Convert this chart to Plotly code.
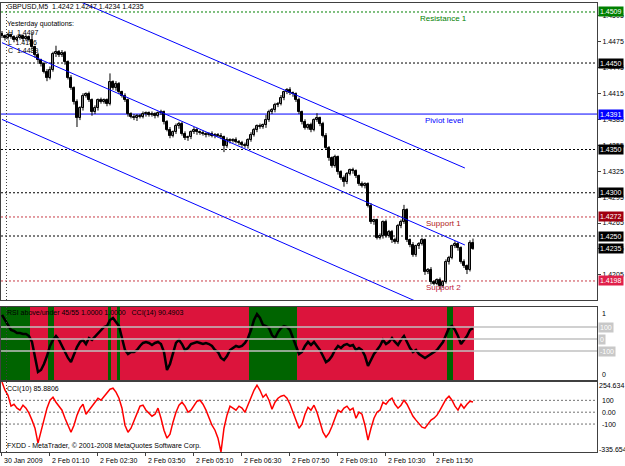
import plotly.graph_objects as go

# ---------------- data ----------------
bars = list(range(158))
open_first = 1.4484
close = [
    1.4481, 1.4479, 1.4482, 1.4480, 1.4477, 1.4479, 1.4481, 1.4478, 1.4480, 1.4477,
    1.4468, 1.4459, 1.4453, 1.4449, 1.4440, 1.4433, 1.4442, 1.4460, 1.4463, 1.4459,
    1.4462, 1.4451, 1.4433, 1.4421, 1.4405, 1.4386, 1.4398, 1.4412, 1.4414, 1.4407,
    1.4393, 1.4398, 1.4407, 1.4405, 1.4407, 1.4403, 1.4428, 1.4421, 1.4426, 1.4416,
    1.4412, 1.4407, 1.4391, 1.4388, 1.4386, 1.4389, 1.4388, 1.4391, 1.4392, 1.4390,
    1.4391, 1.4389, 1.4392, 1.4393, 1.4382, 1.4373, 1.4366, 1.4370, 1.4377, 1.4380,
    1.4368, 1.4363, 1.4364, 1.4370, 1.4373, 1.4370, 1.4369, 1.4368, 1.4367, 1.4368,
    1.4366, 1.4367, 1.4366, 1.4364, 1.4354, 1.4361, 1.4360, 1.4361, 1.4359, 1.4358,
    1.4355, 1.4354, 1.4361, 1.4367, 1.4373, 1.4377, 1.4376, 1.4378, 1.4384, 1.4393,
    1.4396, 1.4401, 1.4403, 1.4410, 1.4416, 1.4419, 1.4415, 1.4414, 1.4407, 1.4393,
    1.4382, 1.4375, 1.4378, 1.4373, 1.4384, 1.4386, 1.4380, 1.4366, 1.4352, 1.4340,
    1.4331, 1.4341, 1.4324, 1.4317, 1.4312, 1.4322, 1.4326, 1.4325, 1.4319, 1.4310,
    1.4308, 1.4310, 1.4285, 1.4266, 1.4268, 1.4248, 1.4250, 1.4266, 1.4250, 1.4255,
    1.4245, 1.4243, 1.4262, 1.4266, 1.4280, 1.4245, 1.4240, 1.4228, 1.4238, 1.4241,
    1.4245, 1.4208, 1.4211, 1.4197, 1.4195, 1.4199, 1.4192, 1.4197, 1.4220, 1.4225,
    1.4238, 1.4241, 1.4236, 1.4220, 1.4215, 1.4211, 1.4242, 1.4235]
# wick lengths in pips (0.0001)
upper_wick = [
    3, 2, 3, 2, 2, 3, 2, 2, 3, 2, 8, 2, 3, 2, 2, 3, 4, 3, 7, 2,
    3, 2, 2, 3, 2, 3, 2, 3, 2, 3, 2, 3, 2, 3, 2, 2, 10, 2, 3, 2,
    2, 3, 2, 2, 3, 2, 2, 3, 2, 2, 3, 2, 2, 3, 2, 2, 3, 2, 3, 2,
    2, 3, 2, 2, 3, 2, 2, 3, 2, 2, 3, 2, 2, 3, 2, 3, 2, 2, 3, 2,
    2, 3, 2, 3, 2, 2, 3, 2, 6, 3, 2, 3, 2, 3, 2, 2, 3, 2, 2, 3,
    2, 3, 2, 3, 2, 6, 2, 2, 3, 2, 2, 3, 2, 2, 3, 2, 2, 3, 2, 2,
    3, 2, 2, 3, 2, 2, 3, 2, 3, 2, 2, 3, 2, 3, 6, 2, 2, 3, 2, 2,
    3, 2, 2, 3, 2, 2, 3, 2, 3, 2, 2, 3, 2, 2, 3, 2, 3, 5]
lower_wick = [
    2, 3, 2, 2, 3, 2, 2, 3, 2, 2, 2, 3, 2, 3, 2, 4, 2, 2, 3, 2,
    2, 3, 2, 2, 3, 10, 2, 3, 2, 2, 4, 2, 3, 2, 2, 3, 2, 2, 3, 2,
    2, 2, 3, 2, 2, 3, 2, 2, 3, 2, 2, 3, 2, 2, 3, 2, 3, 2, 2, 3,
    2, 2, 3, 2, 2, 3, 2, 2, 3, 2, 2, 3, 2, 2, 7, 2, 3, 2, 2, 3,
    2, 2, 3, 2, 2, 3, 2, 2, 3, 2, 2, 3, 2, 2, 3, 2, 2, 3, 2, 2,
    3, 2, 2, 3, 2, 2, 3, 2, 2, 3, 2, 2, 3, 2, 5, 2, 2, 3, 2, 2,
    2, 3, 2, 2, 3, 2, 2, 3, 2, 2, 3, 2, 2, 3, 2, 2, 3, 2, 2, 3,
    2, 3, 2, 3, 2, 2, 4, 2, 2, 3, 2, 2, 3, 2, 2, 5, 2, 1]

cci14 = [
    200, 158, 108, 75, 67, 50, 50, 42, 42, 25, -25, -158, -275, -258, -208, -142, -58, -8, 25, -8,
    -58, -108, -158, -192, -133, -67, -25, -8, -42, 8, -8, 17, 50, 75, 100, 108, 158, 175, 142, 108,
    8, -92, -125, -108, -108, -92, -58, -33, -25, -33, -50, -33, -25, -42, -108, -258, -208, -108, -33, -8,
    -42, -92, -75, -42, -33, -25, -33, -42, -33, -42, -58, -92, -108, -158, -175, -142, -92, -75, -58, -67,
    -58, -33, 8, 75, 158, 208, 175, 117, 108, 92, 33, 8, 58, 92, 108, 100, 75, 8, -58, -125,
    -108, -58, -25, -50, -25, -58, -92, -142, -192, -175, -142, -92, -58, -75, -50, -42, -58, -50, -92, -75,
    -92, -142, -225, -175, -125, -92, -58, -8, -42, -25, 8, -25, -50, -8, 25, -25, -75, -108, -92, -125,
    -142, -158, -142, -125, -108, -92, -58, -25, 33, 92, 108, 75, 25, -42, -8, 25, 75, 90.4903]
cci10 = [
    254.634, 185, 143, 51, 67, 34, 17, 59, 34, -8, -67, -135, -261, -169, -67, 34, 101, 126, 84, 51,
    17, -51, -118, -169, -110, -25, 34, 67, -17, 17, 42, 84, 118, 101, 135, 169, 194, 202, 169, 118,
    34, -110, -169, -135, -67, 0, 51, 59, 17, -8, -34, -17, 34, -51, -152, -219, -185, -84, 0, 59,
    84, 51, 0, 17, 51, 93, 101, 67, 17, -51, -110, -152, -219, -335.654, -135, -25, 51, 34, 17, 51,
    34, 0, 67, 135, 185, 228, 185, 126, 152, 101, 25, 84, 118, 135, 143, 118, 67, 0, -67, -135,
    -101, -17, 42, 17, 59, 0, -84, -169, -211, -177, -118, -51, 17, 0, 34, 51, 17, 34, -51, 0,
    -17, -110, -236, -135, -51, 0, 17, 84, 67, 101, 118, 67, 34, 59, 101, 67, 17, -34, -67, -101,
    -126, -135, -101, -67, -51, -25, 17, 67, 110, 135, 101, 51, 17, 67, 34, 67, 93, 85.8806]
# 1 = green (RSI above/under condition met), 0 = red
rsi_signal = [
    1, 1, 1, 1, 1, 1, 1, 1, 1, 1, 0, 0, 0, 0, 0, 0, 1, 1, 0, 0,
    0, 0, 0, 0, 0, 0, 0, 0, 0, 0, 0, 0, 0, 0, 0, 0, 1, 0, 0, 1,
    0, 0, 0, 0, 0, 0, 0, 0, 0, 0, 0, 0, 0, 0, 0, 0, 0, 0, 0, 0,
    0, 0, 0, 0, 0, 0, 0, 0, 0, 0, 0, 0, 0, 0, 0, 0, 0, 0, 0, 0,
    0, 0, 0, 1, 1, 1, 1, 1, 1, 1, 1, 1, 1, 1, 1, 1, 1, 1, 1, 0,
    0, 0, 0, 0, 0, 0, 0, 0, 0, 0, 0, 0, 0, 0, 0, 0, 0, 0, 0, 0,
    0, 0, 0, 0, 0, 0, 0, 0, 0, 0, 0, 0, 0, 0, 0, 0, 0, 0, 0, 0,
    0, 0, 0, 0, 0, 0, 0, 0, 0, 1, 1, 0, 0, 0, 0, 0, 0, 0]

time_tick_bars = [0, 16, 32, 48, 64, 80, 96, 112, 128, 144]
time_tick_text = ["30 Jan 2009", "2 Feb 01:10", "2 Feb 02:30", "2 Feb 03:50", "2 Feb 05:10",
                  "2 Feb 06:30", "2 Feb 07:50", "2 Feb 09:10", "2 Feb 10:30", "2 Feb 11:50"]
day_separator_bar = 1.5

# horizontal levels
level_prices = [1.4509, 1.4450, 1.4391, 1.4350, 1.4300, 1.4272, 1.4250, 1.4198]
level_colors = ["#008000", "#000000", "#0000FF", "#000000", "#000000", "#C83C46", "#000000", "#C83C46"]
level_dash = ["2px,2px", "2px,2px", "solid", "2px,2px", "2px,2px", "2px,2px", "2px,2px", "2px,2px"]
level_label_bg = ["#008000", "#000000", "#0000FF", "#000000", "#000000", "#A00010", "#000000", "#E0204A"]
bid_price = 1.4235
level_texts = ["Resistance 1", "Piviot level", "Support 1", "Support 2"]
level_text_prices = [1.4509, 1.4391, 1.4272, 1.4198]
level_text_colors = ["#008000", "#0000FF", "#B22222", "#C0203A"]
level_text_bar = 147.3

# channel lines (bar index, price)
chan_up_x, chan_up_y = [26, 154.3], [1.45210, 1.43286]
chan_mid_x, chan_mid_y = [0, 154.3], [1.44735, 1.42396]
chan_low_x, chan_low_y = [0, 145], [1.43848, 1.41638]

cci_levels = [100, 0, -100]

# ---------------- derived OHLC ----------------
opens = [open_first] + close[:-1]
highs = [max(o, c) + w * 0.0001 for o, c, w in zip(opens, close, upper_wick)]
lows = [min(o, c) - w * 0.0001 for o, c, w in zip(opens, close, lower_wick)]

W, H = 625, 466
def px_x(p): return p / W
def px_y(p): return (H - p) / H

XR = [-0.33, -0.33 + 596 / 3]
main_range = [1.41760, 1.45194]
font = "Liberation Sans, Arial, sans-serif"

fig = go.Figure()

# wicks
wx, wy = [], []
for b, hi, lo in zip(bars, highs, lows):
    wx += [b, b, None]
    wy += [hi, lo, None]
fig.add_trace(go.Scatter(x=wx, y=wy, mode="lines", line=dict(color="black", width=1),
                         xaxis="x", yaxis="y", showlegend=False, hoverinfo="skip"))
# bodies
body_base = [min(o, c) for o, c in zip(opens, close)]
body_h = [max(abs(c - o), 0.00003) for o, c in zip(opens, close)]
body_col = ["white" if c >= o else "black" for o, c in zip(opens, close)]
fig.add_trace(go.Bar(x=bars, y=body_h, base=body_base, width=0.62,
                     marker=dict(color=body_col, line=dict(color="black", width=1)),
                     xaxis="x", yaxis="y", showlegend=False, hoverinfo="skip"))

for cx, cy in [(chan_up_x, chan_up_y), (chan_mid_x, chan_mid_y), (chan_low_x, chan_low_y)]:
    fig.add_trace(go.Scatter(x=cx, y=cy, mode="lines", line=dict(color="#0000FF", width=1),
                             xaxis="x", yaxis="y", showlegend=False, hoverinfo="skip"))

# sub window 1 : colour histogram + CCI(14)
fig.add_trace(go.Bar(x=bars, y=[1.0] * len(bars),
                     marker=dict(color=["#006400" if s else "#DC143C" for s in rsi_signal], line=dict(width=0)),
                     width=1.0, xaxis="x2", yaxis="y2", showlegend=False, hoverinfo="skip"))
fig.add_trace(go.Scatter(x=bars, y=cci14, mode="lines", line=dict(color="black", width=2.5),
                         xaxis="x2", yaxis="y3", showlegend=False, hoverinfo="skip"))
# sub window 2 : CCI(10)
fig.add_trace(go.Scatter(x=bars, y=cci10, mode="lines", line=dict(color="#FF0000", width=1.5),
                         xaxis="x3", yaxis="y4", showlegend=False, hoverinfo="skip"))

shapes = []
for p, c, d in zip(level_prices, level_colors, level_dash):
    shapes.append(dict(type="line", xref="x domain", yref="y", x0=0, x1=1, y0=p, y1=p,
                       line=dict(color=c, width=1, dash=d), layer="below"))
for lv in cci_levels:
    shapes.append(dict(type="line", xref="x2 domain", yref="y3", x0=0, x1=1, y0=lv, y1=lv,
                       line=dict(color="#C0C0C0", width=1.5), layer="above"))
    shapes.append(dict(type="line", xref="x3 domain", yref="y4", x0=0, x1=1, y0=lv, y1=lv,
                       line=dict(color="#707070", width=1, dash="2px,2px"), layer="below"))
for xa, ya in [("x", "y"), ("x2", "y2"), ("x3", "y4")]:
    shapes.append(dict(type="line", xref=xa, yref=ya + " domain", x0=day_separator_bar, x1=day_separator_bar,
                       y0=0, y1=1, line=dict(color="#404040", width=1, dash="1px,2px"), layer="above"))

ann = []
def text(x, y, s, color="black", size=7, xanchor="left", yanchor="middle", xref="paper", yref="paper", **kw):
    ann.append(dict(x=x, y=y, text=s, xref=xref, yref=yref, showarrow=False, xanchor=xanchor,
                    yanchor=yanchor, font=dict(family=font, size=size, color=color), **kw))

text(px_x(5), px_y(6), "GBPUSD,M5  1.4242 1.4247 1.4234 1.4235")
text(px_x(5), px_y(24), "Yesterday quotations:")
text(px_x(6), px_y(33), "H  1.4497")
text(px_x(6), px_y(42), "L  1.4186")
text(px_x(6), px_y(51), "C  1.4489")
text(px_x(5), px_y(313), "RSI above/under 45/55 1.0000 1.0000   CCI(14) 90.4903")
text(px_x(5), px_y(389), "CCI(10) 85.8806")
text(px_x(5), px_y(446), "FXDD - MetaTrader, © 2001-2008 MetaQuotes Software Corp.")

for s, p, c in zip(level_texts, level_text_prices, level_text_colors):
    text(level_text_bar, p, s, color=c, size=8, xanchor="center", yanchor="top", xref="x", yref="y")

# price labels on the right
for p, bg in zip(level_prices, level_label_bg):
    text(px_x(598), p, f"{p:.4f}", color="white", xref="paper", yref="y", bgcolor=bg, borderpad=1)
text(px_x(598), bid_price, f"{bid_price:.4f}", color="white", xref="paper", yref="y", bgcolor="black", borderpad=1)

# sub window 1 labels
text(px_x(600), px_y(313), "1")
text(px_x(600), px_y(374), "0")
for lv in cci_levels:
    text(px_x(598), lv, str(lv), color="white", xref="paper", yref="y3", bgcolor="#C8C8C8", borderpad=1)
# sub window 2 labels
text(px_x(597), px_y(385), f"{max(cci10):.3f}")
text(px_x(597), px_y(449), f"{min(cci10):.3f}")
for lv in cci_levels:
    text(px_x(600), lv, "0.00" if lv == 0 else str(lv), xref="paper", yref="y4")

# time labels
for b, t in zip(time_tick_bars, time_tick_text):
    text(b, px_y(460), t, xref="x3", yref="paper")

axis_common = dict(showgrid=False, zeroline=False, showline=True, mirror=True,
                   linecolor="#404040", linewidth=1)
xdom = [px_x(1), px_x(597)]
fig.update_layout(
    width=W, height=H, margin=dict(l=0, r=0, t=0, b=0),
    paper_bgcolor="white", plot_bgcolor="white", bargap=0, barmode="overlay", showlegend=False,
    font=dict(family=font, size=7, color="black"),
    xaxis=dict(domain=xdom, range=XR, showticklabels=False, anchor="y", **axis_common),
    xaxis2=dict(domain=xdom, range=XR, showticklabels=False, anchor="y2", **axis_common),
    xaxis3=dict(domain=xdom, range=XR, showticklabels=False, anchor="y4",
                ticks="outside", ticklen=3, tickcolor="#404040", tickvals=time_tick_bars, **axis_common),
    yaxis=dict(domain=[px_y(300), px_y(3)], range=main_range, side="right", anchor="x",
               tick0=1.4175, dtick=0.003, tickformat=".4f", ticks="outside", ticklen=3,
               tickcolor="#404040", tickfont=dict(size=7), **axis_common),
    yaxis2=dict(domain=[px_y(380), px_y(307)], range=[0, 1], side="right", anchor="x2",
                showticklabels=False, **axis_common),
    yaxis3=dict(overlaying="y2", range=[-341.7, 266.7], side="right", anchor="x2",
                showticklabels=False, showgrid=False, zeroline=False, showline=False),
    yaxis4=dict(domain=[px_y(452), px_y(382)], range=[min(cci10), max(cci10)], side="right",
                anchor="x3", showticklabels=False, **axis_common),
    shapes=shapes, annotations=ann,
)

fig.write_html("out.html")
